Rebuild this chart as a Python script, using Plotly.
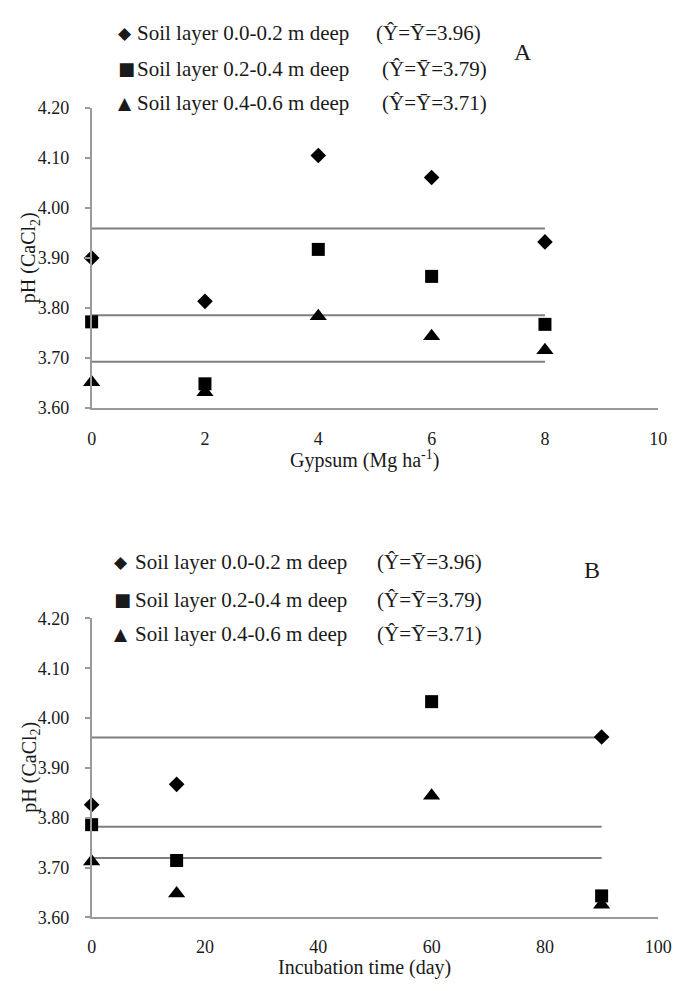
import plotly.graph_objects as go

W, H = 683, 991

# ---- Data: panel A (gypsum) ----
gyp_x = [0, 2, 4, 6, 8]
gyp_l1 = [3.90, 3.813, 4.105, 4.061, 3.932]
gyp_l2 = [3.772, 3.648, 3.917, 3.863, 3.767]
gyp_l3 = [3.651, 3.631, 3.783, 3.743, 3.715]
gyp_line_x = [0, 8]
gyp_means = [3.959, 3.785, 3.692]

# ---- Data: panel B (incubation) ----
inc_x1 = [0, 15, 90]
inc_l1 = [3.826, 3.867, 3.962]
inc_x2 = [0, 15, 60, 90]
inc_l2 = [3.786, 3.714, 4.033, 3.643]
inc_x3 = [0, 15, 60, 90]
inc_l3 = [3.712, 3.648, 3.844, 3.625]
inc_line_x = [0, 90]
inc_means = [3.961, 3.782, 3.719]

legend_labels = ["Soil layer 0.0-0.2 m deep", "Soil layer 0.2-0.4 m deep", "Soil layer 0.4-0.6 m deep"]
legend_eq = ["(Ŷ=Ȳ=3.96)", "(Ŷ=Ȳ=3.79)", "(Ŷ=Ȳ=3.71)"]
legend_sym = ["◆", "■", "▲"]

FONT = "Liberation Serif, Times New Roman, serif"
TXT = "#1a1a1a"
LINEC = "#7f7f7f"
AXC = "#9a9a9a"

def px(x):
    return x / W

def py(y):
    return 1 - y / H

fig = go.Figure()

def add_panel(xs_list, ys_list, line_x, means, xa, ya):
    for m in means:
        fig.add_trace(go.Scatter(x=line_x, y=[m, m], mode="lines",
                                 line=dict(color=LINEC, width=2),
                                 xaxis=xa, yaxis=ya, showlegend=False, hoverinfo="skip"))
    syms = [("diamond", 12), ("square", 13), ("triangle-up", 15)]
    for (xs, ys), (s, sz) in zip(zip(xs_list, ys_list), syms):
        fig.add_trace(go.Scatter(x=xs, y=ys, mode="markers", cliponaxis=False,
                                 marker=dict(symbol=s, size=sz, color="black"),
                                 xaxis=xa, yaxis=ya, showlegend=False))

add_panel([gyp_x, gyp_x, gyp_x], [gyp_l1, gyp_l2, gyp_l3], gyp_line_x, gyp_means, "x", "y")
add_panel([inc_x1, inc_x2, inc_x3], [inc_l1, inc_l2, inc_l3], inc_line_x, inc_means, "x2", "y2")

xdom = [px(90), px(672)]
axis_common = dict(showgrid=False, zeroline=False, showline=True, linecolor=AXC, linewidth=1.5,
                   tickfont=dict(family=FONT, size=18, color=TXT))

fig.update_layout(
    width=W, height=H, margin=dict(l=0, r=0, t=0, b=0),
    paper_bgcolor="white", plot_bgcolor="white",
    xaxis=dict(domain=xdom, range=[0, 10], dtick=2, anchor="y", ticks="",
               ticklabelstandoff=14, **axis_common),
    yaxis=dict(domain=[py(406), py(100)], range=[3.60, 4.20], dtick=0.1, tickformat=".2f",
               anchor="x", ticks="outside", ticklen=5, tickcolor=AXC, tickwidth=1.5,
               ticklabelstandoff=12, **axis_common),
    xaxis2=dict(domain=xdom, range=[0, 100], dtick=20, anchor="y2", ticks="",
                ticklabelstandoff=12, **axis_common),
    yaxis2=dict(domain=[py(926), py(621)], range=[3.60, 4.20], dtick=0.1, tickformat=".2f",
                anchor="x2", ticks="outside", ticklen=5, tickcolor=AXC, tickwidth=1.5,
                ticklabelstandoff=12, **axis_common),
)

ann = []

def txt(x, y, s, size, xanchor="left", angle=0, font=FONT):
    ann.append(dict(x=px(x), y=py(y), xref="paper", yref="paper", text=s, showarrow=False,
                    xanchor=xanchor, yanchor="middle", textangle=angle,
                    font=dict(family=font, size=size, color=TXT)))

# Legends
sym_font = "DejaVu Sans, sans-serif"
sym_sizes = [17, 18, 17]
for rows, eqx, sx, tx in [([23, 60, 95], [380, 386, 386], 115, 135),
                          ([563, 602, 637], [381, 381, 381], 111, 132)]:
    for i, ry in enumerate(rows):
        txt(sx, ry, legend_sym[i], sym_sizes[i], font=sym_font)
        txt(tx, ry, legend_labels[i], 21)
        txt(eqx[i], ry, legend_eq[i], 21)

txt(533, 43, "A", 24, xanchor="center")
txt(604, 572, "B", 24, xanchor="center")

# Axis titles
txt(370, 459, "Gypsum (Mg ha<sup>-1</sup>)", 20, xanchor="center")
txt(370, 977, "Incubation time (day)", 20, xanchor="center")
txt(27, 253, "pH (CaCl<sub>2</sub>)", 20, xanchor="center", angle=-90)
txt(27, 773, "pH (CaCl<sub>2</sub>)", 20, xanchor="center", angle=-90)

fig.update_layout(annotations=ann)

fig.write_html("out.html", config={"displayModeBar": False},
               post_script="document.body.style.margin='0';document.body.style.overflow='hidden';")
